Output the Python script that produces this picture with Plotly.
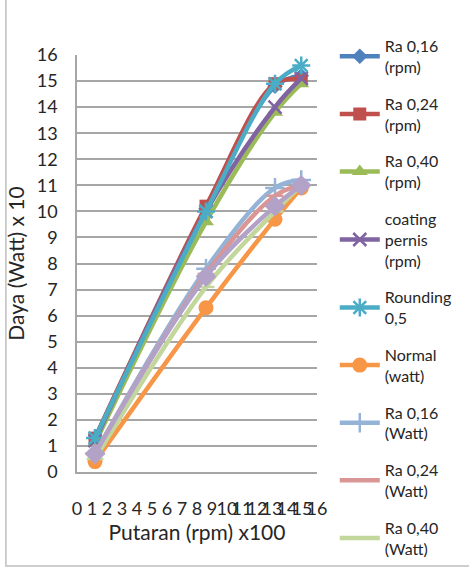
import plotly.graph_objects as go

# ---- data ----
x_putaran = [1.2, 8.6, 13.2, 14.95]
ra016_rpm = [1.3, 10.1, 14.8, 15.2]
ra024_rpm = [1.3, 10.2, 14.9, 15.05]
ra040_rpm = [1.1, 9.6, 13.8, 14.9]
coating_rpm = [1.2, 10.0, 14.0, 15.1]
rounding05 = [1.3, 10.0, 14.9, 15.6]
normal_watt = [0.4, 6.3, 9.7, 10.9]
ra016_watt = [0.7, 7.8, 10.9, 11.2]
ra024_watt = [0.7, 7.6, 10.6, 11.0]
ra040_watt = [0.5, 7.1, 10.0, 11.0]
coating_watt = [0.7, 7.5, 10.2, 11.0]

x_ticks = list(range(0, 17))
y_ticks = list(range(0, 17))

series = [
    ("Ra 0,16<br>(rpm)", ra016_rpm, "#4F81BD", "diamond", 12, True),
    ("Ra 0,24<br>(rpm)", ra024_rpm, "#C0504D", "square", 13, True),
    ("Ra 0,40<br>(rpm)", ra040_rpm, "#9BBB59", "triangle-up", 14, True),
    ("coating<br>pernis<br>(rpm)", coating_rpm, "#8064A2", "x-thin", 13, True),
    ("Rounding<br>0,5", rounding05, "#4BACC6", "asterisk", 15, True),
    ("Normal<br>(watt)", normal_watt, "#F79646", "circle", 15, True),
    ("Ra 0,16<br>(Watt)", ra016_watt, "#95B3D7", "cross-thin", 14, True),
    ("Ra 0,24<br>(Watt)", ra024_watt, "#D99694", "line-ew", 12, True),
    ("Ra 0,40<br>(Watt)", ra040_watt, "#C3D69B", "line-ew", 12, True),
    ("coating pernis (Watt)", coating_watt, "#B3A2C7", "diamond", 16, False),
]

fig = go.Figure()
for i, (name, ys, col, sym, sz, show) in enumerate(series):
    thin = sym in ("x-thin", "asterisk", "cross-thin", "line-ew")
    fig.add_trace(go.Scatter(
        x=x_putaran, y=ys, name=name, mode="lines+markers",
        line=dict(color=col, width=4.5, shape="spline", smoothing=1.0),
        marker=dict(symbol=sym, size=sz, color=col,
                    line=dict(color=col, width=2.5 if thin else 0)),
        legendgroup="g%d" % i, showlegend=show,
    ))

L, R, T, B = 77, 149, 55, 97
W, H = 469, 569
pw, ph = W - L - R, H - T - B

def px_x(p):
    return (p - L) / pw

def px_y(p):
    return (H - B - p) / ph

fig.add_shape(type="rect", xref="paper", yref="paper",
              x0=px_x(5), x1=px_x(480), y0=px_y(566), y1=px_y(-10),
              line=dict(color="#BFBFBF", width=1.5), fillcolor="rgba(0,0,0,0)",
              layer="below")

fig.update_layout(
    width=W, height=H,
    margin=dict(l=L, r=R, t=T, b=B),
    paper_bgcolor="white", plot_bgcolor="white",
    font=dict(family="Lato", color="#262626"),
    showlegend=True,
    legend=dict(
        x=px_x(338), y=px_y(29), xanchor="left", yanchor="top",
        font=dict(family="Lato", size=16, color="#262626"),
        tracegroupgap=13, traceorder="grouped",
        bgcolor="rgba(0,0,0,0)", itemwidth=40,
        maxheight=560,
    ),
    xaxis=dict(
        range=[0, 16], tickmode="array", tickvals=x_ticks,
        ticktext=[str(v) for v in x_ticks], tickangle=0,
        showgrid=False, zeroline=False,
        showline=True, linecolor="#A6A6A6", linewidth=1.5,
        ticks="", ticklabelstandoff=20,
        tickfont=dict(family="Lato", size=18, color="#262626"),
        title=dict(text="Putaran (rpm) x100", standoff=2,
                   font=dict(family="Lato", size=21, color="#262626")),
    ),
    yaxis=dict(
        range=[0, 16], tickmode="array", tickvals=y_ticks,
        ticktext=[str(v) for v in y_ticks],
        showgrid=True, gridcolor="#A6A6A6", gridwidth=1.5,
        zeroline=False,
        showline=True, linecolor="#A6A6A6", linewidth=1.5,
        ticks="", ticklabelstandoff=14,
        tickfont=dict(family="Lato", size=18, color="#262626"),
        title=dict(text="Daya (Watt) x 10", standoff=6,
                   font=dict(family="Lato", size=21, color="#262626")),
    ),
)

fig.write_html("out.html")
